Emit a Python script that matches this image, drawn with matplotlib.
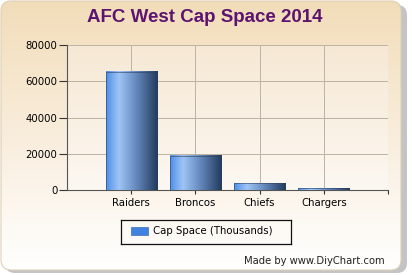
import numpy as np
import matplotlib
matplotlib.use("Agg")
import matplotlib.pyplot as plt
from matplotlib.patches import FancyBboxPatch, Rectangle
from matplotlib.colors import LinearSegmentedColormap

teams = ["Raiders", "Broncos", "Chiefs", "Chargers"]
cap_space = [65200, 19000, 3600, 900]
y_ticks = [0, 20000, 40000, 60000, 80000]

W, H = 412, 275
fig = plt.figure(figsize=(W / 100, H / 100), dpi=100)

# panel background with shadow
bg = fig.add_axes([0, 0, 1, 1])
bg.axis("off")

shadow = FancyBboxPatch((5, 5), 402, 268, boxstyle="round,pad=0,rounding_size=10",
                        fc="#8a8a8a", ec="none", alpha=0.5, zorder=0)
bg.add_patch(shadow)
panel = FancyBboxPatch((1, 1), 400, 269, boxstyle="round,pad=0,rounding_size=10",
                       fc="none", ec="#dccfb8", lw=0.8, zorder=2)
bg.add_patch(panel)
panel_cmap = LinearSegmentedColormap.from_list("panel", ["#f2ddb9", "#f9eddc", "#ffffff"])
grad = np.linspace(0, 1, 256).reshape(-1, 1)
im = bg.imshow(grad, cmap=panel_cmap, extent=[1, 401, 1, 270], aspect="auto",
               origin="lower", zorder=1)
im.set_clip_path(panel)
bg.set_xlim(0, W)
bg.set_ylim(H, 0)

fig.text(205 / W, 1 - 18 / H, "AFC West Cap Space 2014", ha="center", va="center",
         fontsize=13.5, fontweight="bold", family="Liberation Sans", color="#5c1470")

# plot area
ax = fig.add_axes([67 / W, 1 - 190 / H, (388 - 67) / W, (190 - 45) / H])
area_cmap = LinearSegmentedColormap.from_list("area", ["#fcf8f2", "#f6e8d4"])
ax.imshow(grad, cmap=area_cmap, extent=[0, 5, 0, 80000], aspect="auto",
          origin="lower", zorder=0)

bar_cmap = LinearSegmentedColormap.from_list(
    "bar", [(0, "#4f8fe6"), (0.25, "#9fc4f5"), (0.55, "#6a8fc4"), (1, "#223a5c")])
xs = np.arange(1, len(teams) + 1)
bars = ax.bar(xs, cap_space, width=0.8, color="none", zorder=3)
hgrad = np.linspace(0, 1, 256).reshape(1, -1)
for b in bars:
    x0, w, h = b.get_x(), b.get_width(), b.get_height()
    ax.imshow(hgrad, cmap=bar_cmap, extent=[x0, x0 + w, 0, h], aspect="auto", zorder=3)
    ax.add_patch(Rectangle((x0, 0), w, h, fc="none", ec="#2a3f60", lw=0.4, zorder=4))
ax.set_xlim(0, 5)
ax.set_ylim(0, 80000)

ax.set_yticks(y_ticks)
ax.set_yticklabels([str(v) for v in y_ticks], fontsize=7.3)
ax.set_xticks(list(xs) + [5])
ax.set_xticklabels(teams + [""], fontsize=7.3)
ax.tick_params(axis="y", direction="out", length=6, width=0.8, color="#333333", pad=1)
ax.tick_params(axis="x", direction="out", length=3, width=0.8, color="#333333", pad=3)
ax.grid(True, color="#bdb3a3", lw=0.7, zorder=1)
for s in ["top", "right"]:
    ax.spines[s].set_visible(False)
for s in ["left", "bottom"]:
    ax.spines[s].set_color("#555555")
    ax.spines[s].set_linewidth(0.8)

# legend
lg = fig.add_axes([121 / W, 1 - 244 / H, (291 - 121) / W, 24 / H])
lg.set_xlim(0, 170)
lg.set_ylim(0, 24)
lg.set_xticks([])
lg.set_yticks([])
lg.patch.set_alpha(0)
for s in lg.spines.values():
    s.set_color("#111111")
    s.set_linewidth(0.9)
lg.add_patch(Rectangle((10, 9), 17, 8, fc="#3f82e0", ec="#2a5aa0", lw=0.4))
lg.text(32, 12.5, "Cap Space (Thousands)", va="center", ha="left", fontsize=7.3)

fig.text(385 / W, 1 - 261 / H, "Made by www.DiyChart.com", ha="right", va="center",
         fontsize=7.2, color="#222222")

fig.savefig("out.png", dpi=100)
